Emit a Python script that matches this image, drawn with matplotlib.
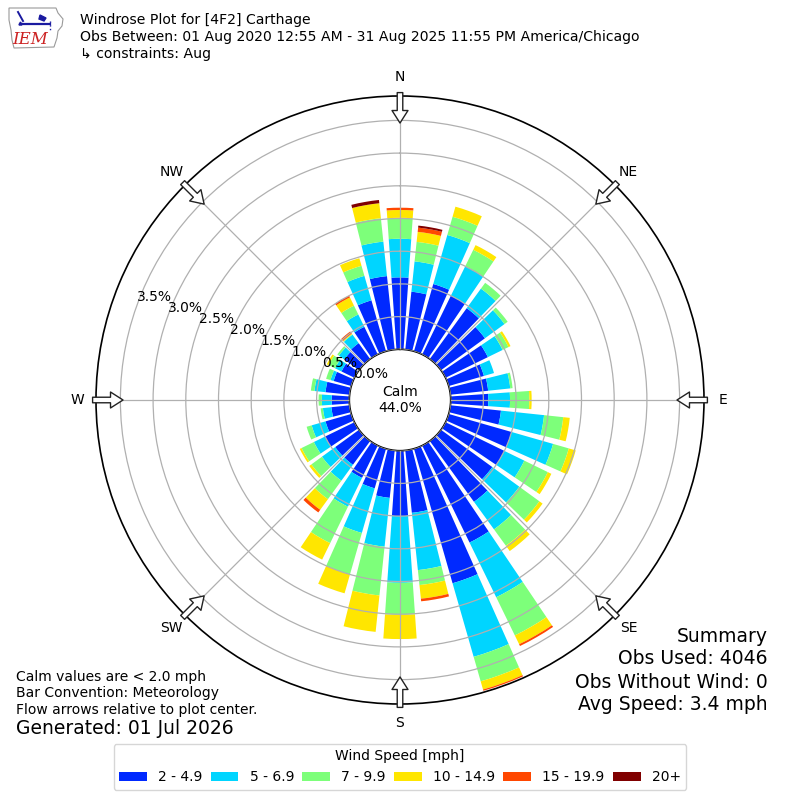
import numpy as np
import matplotlib
matplotlib.use("Agg")
import matplotlib.pyplot as plt
import matplotlib.transforms as mtransforms
from matplotlib.patches import Patch, Polygon
from matplotlib.lines import Line2D

# ---------------- data ----------------
directions = list(range(0, 360, 10))  # degrees, meteorological convention
speed_labels = ["2 - 4.9", "5 - 6.9", "7 - 9.9", "10 - 14.9", "15 - 19.9", "20+"]

# percent of observations per direction and speed bin
pct_2_5 = [1.10, 0.89, 1.07, 1.00, 0.96, 0.83, 0.72, 0.56, 0.58, 0.575, 0.777, 1.00,
           1.00, 0.97, 1.15, 1.65, 2.14, 0.96, 1.00, 0.73, 0.63, 0.55, 0.45, 0.45,
           0.50, 0.41, 0.28, 0.27, 0.37, 0.28, 0.22, 0.28, 0.30, 0.47, 0.81, 1.13]
pct_5_7 = [0.59, 0.466, 0.78, 0.50, 0.37, 0.37, 0.25, 0.16, 0.34, 0.332, 0.663, 0.66,
           0.34, 0.51, 0.52, 0.93, 1.17, 0.88, 1.02, 0.75, 0.71, 0.49, 0.30, 0.25,
           0.19, 0.22, 0.13, 0.15, 0.17, 0.05, 0.11, 0.10, 0.16, 0.21, 0.39, 0.53]
pct_7_10 = [0.32, 0.30, 0.29, 0.28, 0.11, 0.06, 0.10, 0.0, 0.036, 0.295, 0.295, 0.25,
            0.40, 0.38, 0.31, 0.65, 0.39, 0.23, 0.49, 0.75, 0.66, 0.62, 0.35, 0.20,
            0.21, 0.08, 0.035, 0.05, 0.055, 0.07, 0.11, 0.03, 0.01, 0.15, 0.16, 0.36]
pct_10_15 = [0.12, 0.154, 0.16, 0.08, 0.0, 0.0, 0.035, 0.0, 0.0, 0.036, 0.10, 0.11,
             0.06, 0.06, 0.10, 0.15, 0.13, 0.21, 0.37, 0.56, 0.30, 0.28, 0.20, 0.04,
             0.03, 0.0, 0.0, 0.0, 0.0, 0.0, 0.03, 0.0, 0.01, 0.14, 0.12, 0.23]
pct_15_20 = [0.035, 0.065, 0.0, 0.0, 0.0, 0.0, 0.0, 0.0, 0.0, 0.0, 0.0, 0.0,
             0.0, 0.0, 0.0, 0.03, 0.02, 0.04, 0.0, 0.0, 0.0, 0.0, 0.05, 0.0,
             0.0, 0.0, 0.0, 0.0, 0.0, 0.0, 0.0, 0.0, 0.04, 0.03, 0.0, 0.0]
pct_20p = [0.0, 0.031, 0.0, 0.0, 0.0, 0.0, 0.0, 0.0, 0.0, 0.0, 0.0, 0.0,
           0.0, 0.0, 0.0, 0.0, 0.0, 0.0, 0.0, 0.0, 0.0, 0.0, 0.0, 0.0,
           0.0, 0.0, 0.0, 0.0, 0.0, 0.0, 0.0, 0.0, 0.0, 0.0, 0.0, 0.05]

calm_pct = 44.0
radial_ticks = [0.0, 0.5, 1.0, 1.5, 2.0, 2.5, 3.0, 3.5]
compass_labels = ["N", "NE", "E", "SE", "S", "SW", "W", "NW"]
compass_angles = [0, 45, 90, 135, 180, 225, 270, 315]

title_lines = ["Windrose Plot for [4F2] Carthage",
               "Obs Between: 01 Aug 2020 12:55 AM - 31 Aug 2025 11:55 PM America/Chicago",
               "\u21b3 constraints: Aug"]
notes = ["Calm values are < 2.0 mph", "Bar Convention: Meteorology",
         "Flow arrows relative to plot center."]
generated = "Generated: 01 Jul 2026"
summary = ["Summary", "Obs Used: 4046", "Obs Without Wind: 0", "Avg Speed: 3.4 mph"]

# ---------------- figure ----------------
plt.rcParams["font.family"] = ["DejaVu Sans"]
fig = plt.figure(figsize=(8, 8), dpi=100)
ax = fig.add_axes([0.12, 0.12, 0.76, 0.76], projection="polar")
ax.set_theta_zero_location("N")
ax.set_theta_direction(-1)
r_origin = -0.775
r_max = 3.873
ax.set_rorigin(r_origin)
ax.set_ylim(0, r_max)

colors = plt.cm.jet(np.linspace(0, 1, 7)[1:])
series = [pct_2_5, pct_5_7, pct_7_10, pct_10_15, pct_15_20, pct_20p]
theta = np.deg2rad(directions)
bottom = np.zeros(len(directions))
for vals, col in zip(series, colors):
    vals = np.asarray(vals)
    ax.bar(theta, vals, width=np.deg2rad(8), bottom=bottom, color=col,
           edgecolor="none", linewidth=0, zorder=1, align="center")
    bottom = bottom + vals

ax.set_xticks(np.deg2rad(compass_angles))
ax.set_xticklabels([])
ax.set_yticks(radial_ticks)
ax.set_yticklabels([])
ax.set_axisbelow(False)
ax.grid(True, color="#b0b0b0", linewidth=0.9, zorder=2)
ax.tick_params(axis="both", length=0)
for name, sp in ax.spines.items():
    sp.set_color("black")
    sp.set_linewidth(1.2)

# radial labels
off = mtransforms.offset_copy(ax.transData, fig=fig, x=18, y=8.7, units="dots")
for v in radial_ticks:
    ax.text(np.deg2rad(289.8), v, f"{v:.1f}%", transform=off, ha="center",
            va="center", fontsize=10, clip_on=False, zorder=6)

# compass labels and flow arrows
for lab, ang in zip(compass_labels, compass_angles):
    ax.text(np.deg2rad(ang), 4.164, lab, ha="center", va="center", fontsize=10,
            clip_on=False)
    ax.annotate("", xy=(np.deg2rad(ang), 3.46), xytext=(np.deg2rad(ang), 3.925),
                xycoords="data", textcoords="data", annotation_clip=False,
                arrowprops=dict(arrowstyle="simple,head_length=0.9,head_width=1.15,tail_width=0.4",
                                fc="white", ec="#222222", lw=1.0, shrinkA=0, shrinkB=0,
                                mutation_scale=10), zorder=8)

ax.text(0.5, 0.5, f"Calm\n{calm_pct:.1f}%", transform=ax.transAxes, ha="center",
        va="center", fontsize=10, linespacing=1.25, zorder=7)

# ---------------- texts ----------------
for i, line in enumerate(title_lines):
    fig.text(80 / 800, 1 - (20 + 17 * i) / 800, line, ha="left", va="center", fontsize=10.1)
for i, line in enumerate(notes):
    fig.text(16 / 800, 1 - (677 + 16.5 * i) / 800, line, ha="left", va="center", fontsize=10)
fig.text(16 / 800, 1 - 729 / 800, generated, ha="left", va="center", fontsize=13.5)
for i, line in enumerate(summary):
    fig.text(768 / 800, 1 - (636 + 23 * i) / 800, line, ha="right", va="center", fontsize=13.5)

# ---------------- logo ----------------
def px(x, y):
    return (x / 800, 1 - y / 800)

iowa = [(9, 8), (56, 8), (58, 13), (63, 19), (62, 26), (58, 31), (57, 38),
        (54, 47), (14, 48), (12, 40), (11, 30), (9, 20)]
fig.add_artist(Polygon([px(*p) for p in iowa], closed=True, fill=False,
                       ec="#9a9a9a", lw=0.8, transform=fig.transFigure))
fig.add_artist(Line2D([px(20, 24)[0], px(50, 24)[0]], [px(20, 24)[1], px(50, 24)[1]],
                      color="#1a1aa0", lw=1.6, transform=fig.transFigure))
fig.add_artist(Line2D([px(18, 12)[0], px(23, 21)[0]], [px(18, 12)[1], px(23, 21)[1]],
                      color="#1a1aa0", lw=1.4, transform=fig.transFigure))
fig.add_artist(Polygon([px(40, 15), px(46, 18), px(44, 21), px(39, 19)], closed=True,
                       color="#1a1aa0", transform=fig.transFigure))
fig.add_artist(Line2D([px(50, 21)[0], px(50, 31)[0]], [px(50, 21)[1], px(50, 31)[1]],
                      color="#1a1aa0", lw=1.0, ls=":", transform=fig.transFigure))
fig.add_artist(Polygon([px(19, 25), px(22, 25), px(20.5, 22)], closed=True,
                       color="#1a1aa0", transform=fig.transFigure))
fig.text(*px(30, 39), "IEM", ha="center", va="center", fontsize=12, color="#cc2222",
         family="DejaVu Serif", style="italic")

# ---------------- legend ----------------
handles = [Patch(facecolor=c, edgecolor="none", label=l) for c, l in zip(colors, speed_labels)]
leg = fig.legend(handles=handles, loc="lower center", bbox_to_anchor=(0.5, 0.004),
                 ncol=6, title="Wind Speed [mph]", fontsize=10, title_fontsize=10,
                 columnspacing=0.6, frameon=True)

fig.savefig("out.png", dpi=100)
